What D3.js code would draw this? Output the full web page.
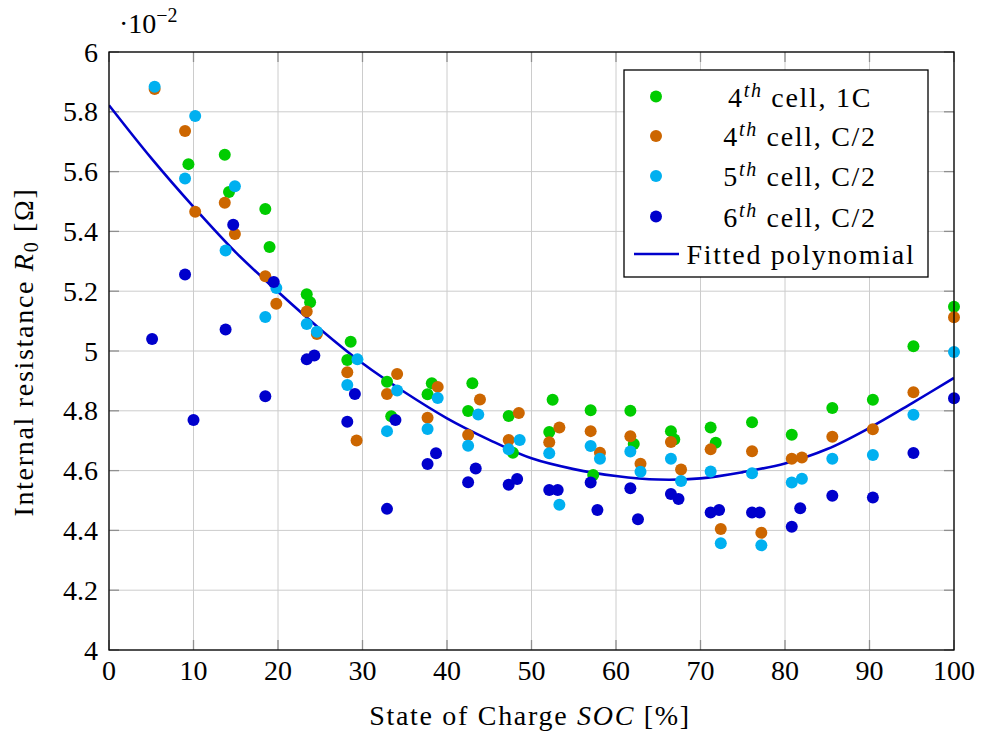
<!DOCTYPE html>
<html>
<head>
<meta charset="utf-8">
<script src="https://cdn.jsdelivr.net/npm/d3@7"></script>
</head>
<body style="margin:0; background:#fff">
<svg id="chart" width="984" height="733"></svg>
<script>
// Internal resistance R0 (×10^-2 Ω) against state of charge, per cell and C-rate
const cell4_1C_soc = [9.4, 13.7, 14.2, 18.5, 19.0, 23.4, 23.8, 28.6, 28.2, 32.9, 33.4, 38.2, 37.7, 43.0, 42.5, 47.3, 47.8, 52.5, 52.1, 57.0, 57.3, 61.7, 62.1, 66.5, 66.9, 71.2, 71.8, 76.1, 80.8, 85.6, 90.4, 95.2, 100];
const cell4_1C_r0  = [5.625, 5.656, 5.532, 5.475, 5.348, 5.190, 5.163, 5.031, 4.970, 4.897, 4.782, 4.892, 4.855, 4.892, 4.799, 4.783, 4.660, 4.837, 4.729, 4.802, 4.585, 4.800, 4.689, 4.732, 4.704, 4.744, 4.693, 4.762, 4.720, 4.809, 4.837, 5.016, 5.148];

const cell4_C2_soc = [5.4, 9.0, 10.2, 13.7, 14.9, 18.5, 19.8, 23.4, 24.6, 28.2, 29.3, 32.9, 34.1, 37.7, 38.9, 42.5, 43.9, 47.3, 48.5, 52.1, 53.3, 57.0, 58.1, 61.7, 62.9, 66.5, 67.7, 71.2, 72.4, 76.1, 77.2, 80.8, 82.0, 85.6, 90.4, 95.2, 100];
const cell4_C2_r0  = [5.876, 5.736, 5.466, 5.496, 5.391, 5.250, 5.158, 5.132, 5.057, 4.929, 4.701, 4.856, 4.923, 4.777, 4.880, 4.719, 4.838, 4.702, 4.793, 4.695, 4.744, 4.732, 4.660, 4.715, 4.623, 4.696, 4.604, 4.671, 4.405, 4.665, 4.392, 4.640, 4.644, 4.713, 4.738, 4.862, 5.113];

const cell5_C2_soc = [5.4, 9.0, 10.2, 13.8, 14.9, 18.5, 19.8, 23.4, 24.6, 28.2, 29.4, 32.9, 34.1, 37.7, 38.9, 42.5, 43.7, 47.3, 48.6, 52.1, 53.3, 57.0, 58.1, 61.7, 62.9, 66.5, 67.7, 71.2, 72.4, 76.1, 77.2, 80.8, 82.0, 85.6, 90.4, 95.2, 100];
const cell5_C2_r0  = [5.884, 5.577, 5.786, 5.336, 5.551, 5.114, 5.211, 5.090, 5.064, 4.886, 4.972, 4.732, 4.868, 4.739, 4.843, 4.683, 4.788, 4.671, 4.702, 4.658, 4.486, 4.682, 4.640, 4.664, 4.596, 4.640, 4.565, 4.597, 4.357, 4.591, 4.350, 4.560, 4.573, 4.640, 4.652, 4.787, 4.997];

const cell6_C2_soc = [5.1, 9.0, 10.0, 13.8, 14.7, 18.5, 19.5, 23.4, 24.3, 28.2, 29.1, 32.9, 33.9, 37.7, 38.7, 42.5, 43.4, 47.3, 48.3, 52.1, 53.1, 57.0, 57.8, 61.7, 62.6, 66.5, 67.4, 71.2, 72.2, 76.1, 77.0, 80.8, 81.8, 85.6, 90.4, 95.2, 100];
const cell6_C2_r0  = [5.040, 5.256, 4.769, 5.072, 5.422, 4.849, 5.231, 4.972, 4.985, 4.763, 4.856, 4.472, 4.769, 4.622, 4.658, 4.561, 4.607, 4.553, 4.572, 4.535, 4.535, 4.560, 4.468, 4.541, 4.437, 4.522, 4.505, 4.460, 4.468, 4.460, 4.460, 4.412, 4.474, 4.516, 4.510, 4.659, 4.842];

// Fitted polynomial, sampled every 5 % SOC
const fitSoc = [0, 5, 10, 15, 20, 25, 30, 35, 40, 45, 50, 55, 60, 65, 70, 75, 80, 85, 90, 95, 100];
const fitR0  = [5.822, 5.645, 5.482, 5.330, 5.198, 5.073, 4.959, 4.862, 4.775, 4.703, 4.641, 4.605, 4.582, 4.570, 4.574, 4.595, 4.624, 4.672, 4.743, 4.825, 4.910];

const xTicks = [0, 10, 20, 30, 40, 50, 60, 70, 80, 90, 100];
const yTicks = [4, 4.2, 4.4, 4.6, 4.8, 5, 5.2, 5.4, 5.6, 5.8, 6];

// legend entries: ordinal number, superscript, remainder
const seriesOrd  = ["4", "4", "5", "6"];
const seriesRest = [" cell, 1C", " cell, C/2", " cell, C/2", " cell, C/2"];
const seriesColors = ["#00cc00", "#cc6600", "#00b0f0", "#0000cc"];
const fitColor = "#0000cc";

const series = [
  { soc: cell4_1C_soc, r0: cell4_1C_r0 },
  { soc: cell4_C2_soc, r0: cell4_C2_r0 },
  { soc: cell5_C2_soc, r0: cell5_C2_r0 },
  { soc: cell6_C2_soc, r0: cell6_C2_r0 }
];

const FS = 28, FS_SMALL = 20, LS = 1.7;

const svg = d3.select("#chart").style("font-family", '"Liberation Serif"');
const pLeft = 109, pRight = 954, pTop = 52, pBottom = 650;

const x = d3.scaleLinear().domain([0, 100]).range([pLeft, pRight]);
const y = d3.scaleLinear().domain([4, 6]).range([pBottom, pTop]);

// grid
const grid = svg.append("g").attr("stroke", "#cccccc").attr("stroke-width", 1);
grid.selectAll("line.gx").data(xTicks).join("line").attr("class", "gx")
  .attr("x1", d => x(d)).attr("x2", d => x(d)).attr("y1", pTop).attr("y2", pBottom);
grid.selectAll("line.gy").data(yTicks).join("line").attr("class", "gy")
  .attr("y1", d => y(d)).attr("y2", d => y(d)).attr("x1", pLeft).attr("x2", pRight);

// inward ticks on all four sides
const tl = 10;
const ticks = svg.append("g").attr("stroke", "#8f8f8f").attr("stroke-width", 1.3);
xTicks.forEach(d => {
  ticks.append("line").attr("x1", x(d)).attr("x2", x(d)).attr("y1", pBottom).attr("y2", pBottom - tl);
  ticks.append("line").attr("x1", x(d)).attr("x2", x(d)).attr("y1", pTop).attr("y2", pTop + tl);
});
yTicks.forEach(d => {
  ticks.append("line").attr("y1", y(d)).attr("y2", y(d)).attr("x1", pLeft).attr("x2", pLeft + tl);
  ticks.append("line").attr("y1", y(d)).attr("y2", y(d)).attr("x1", pRight).attr("x2", pRight - tl);
});

// fitted curve
const line = d3.line().x((d, i) => x(fitSoc[i])).y(d => y(d)).curve(d3.curveCatmullRom.alpha(0.5));
svg.append("clipPath").attr("id", "plotClip").append("rect")
  .attr("x", pLeft).attr("y", pTop).attr("width", pRight - pLeft).attr("height", pBottom - pTop);
svg.append("path").datum(fitR0)
  .attr("clip-path", "url(#plotClip)")
  .attr("fill", "none").attr("stroke", fitColor).attr("stroke-width", 2.6)
  .attr("d", line);

// scatter points
series.forEach((s, k) => {
  svg.append("g").selectAll("circle").data(s.r0).join("circle")
    .attr("cx", (d, i) => x(s.soc[i]))
    .attr("cy", d => y(d))
    .attr("r", 6)
    .attr("fill", seriesColors[k]);
});

// frame
svg.append("rect").attr("x", pLeft).attr("y", pTop).attr("width", pRight - pLeft).attr("height", pBottom - pTop)
  .attr("fill", "none").attr("stroke", "#000").attr("stroke-width", 1.3);

// text helper: every label gets the serif face inline
function label(sel) {
  return sel.append("text").style("font-family", '"Liberation Serif"').style("font-size", FS + "px").attr("fill", "#000");
}

// tick labels
const fmt = d3.format("~g");
xTicks.forEach(d => {
  label(svg).attr("x", x(d)).attr("y", 680).attr("text-anchor", "middle").text(fmt(d));
});
yTicks.forEach(d => {
  label(svg).attr("x", 98).attr("y", y(d)).attr("dy", "0.34em").attr("text-anchor", "end").text(fmt(d));
});

// scale multiplier
const mult = label(svg).attr("x", 119).attr("y", 33);
mult.append("tspan").text("·10");
mult.append("tspan").attr("dy", -11).style("font-size", FS_SMALL + "px").text("−2");

// axis titles
const xt = label(svg).attr("x", 530).attr("y", 725).attr("text-anchor", "middle").style("letter-spacing", LS + "px");
xt.append("tspan").text("State of Charge ");
xt.append("tspan").style("font-style", "italic").text("SOC");
xt.append("tspan").text(" [%]");

const yt = label(svg).attr("transform", "translate(33,352) rotate(-90)")
  .attr("text-anchor", "middle").style("letter-spacing", LS + "px");
yt.append("tspan").text("Internal resistance ");
yt.append("tspan").style("font-style", "italic").text("R");
yt.append("tspan").attr("dy", 5).style("font-size", FS_SMALL + "px").text("0");
yt.append("tspan").attr("dy", -5).text(" [Ω]");

// legend
const lg = svg.append("g");
lg.append("rect").attr("x", 624).attr("y", 70).attr("width", 304).attr("height", 207)
  .attr("fill", "#fff").attr("stroke", "#000").attr("stroke-width", 1.3);
const rowY = [96.5, 136, 176, 216.5, 254];
series.forEach((s, k) => {
  lg.append("circle").attr("cx", 656).attr("cy", rowY[k]).attr("r", 6).attr("fill", seriesColors[k]);
  const t = label(lg).attr("x", 800).attr("y", rowY[k] + 10)
    .attr("text-anchor", "middle").style("letter-spacing", LS + "px");
  t.append("tspan").text(seriesOrd[k]);
  t.append("tspan").attr("dy", -10).style("font-size", FS_SMALL + "px").style("font-style", "italic").text("th");
  t.append("tspan").attr("dy", 10).text(seriesRest[k]);
});
lg.append("line").attr("x1", 634).attr("x2", 679).attr("y1", rowY[4]).attr("y2", rowY[4])
  .attr("stroke", fitColor).attr("stroke-width", 2.6);
label(lg).attr("x", 801).attr("y", rowY[4] + 10).attr("text-anchor", "middle")
  .style("letter-spacing", LS + "px").text("Fitted polynomial");
</script>
</body>
</html>
